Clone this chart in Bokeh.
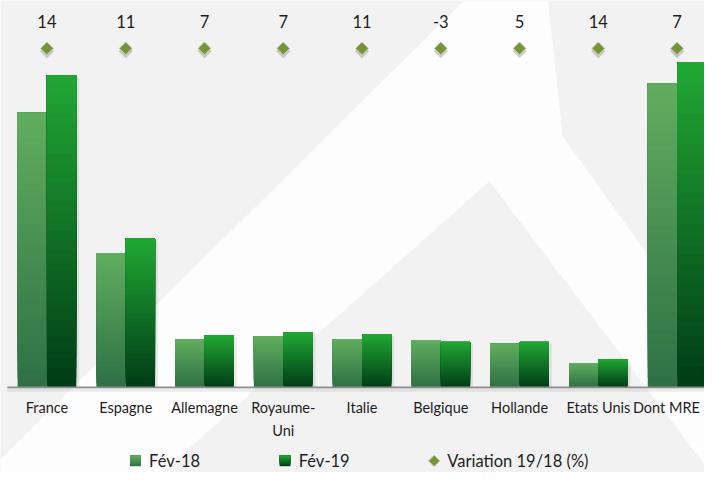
from bokeh.plotting import figure
from bokeh.models import Range1d
from bokeh.core.properties import value
from bokeh.embed import file_html
from bokeh.resources import INLINE
import math

# ---------------- data ----------------
categories = ["France", "Espagne", "Allemagne", "Royaume-\nUni", "Italie",
              "Belgique", "Hollande", "Etats Unis", "Dont MRE"]
fev18 = [480.0, 235.0, 84.5, 89.6, 84.5, 82.8, 76.0, 42.3, 530.7]
fev19 = [546.0, 260.0, 91.0, 96.3, 93.0, 79.4, 79.4, 49.0, 568.4]
variation = [14, 11, 7, 7, 11, -3, 5, 14, 7]
series_names = ["Fév-18", "Fév-19", "Variation 19/18 (%)"]

# ---------------- layout helpers (reference-pixel based) ----------------
W, H = 704, 472
REF_W, REF_H = 720, 488
CAT_PX = 80.56        # reference px per category
VAL_PX = 0.5917       # reference px per value unit

def rx(xref):   # reference pixel x -> data x
    return (xref - 47.5) / CAT_PX

def ry(yref):   # reference pixel y -> data y
    return (400 - yref) / VAL_PX

def dx(px):
    return px / CAT_PX

def dy(px):
    return px / VAL_PX

def hex2rgb(h):
    h = h.lstrip("#")
    return tuple(int(h[i:i + 2], 16) for i in (0, 2, 4))

def lerp(c1, c2, t):
    a, b = hex2rgb(c1), hex2rgb(c2)
    return "#%02x%02x%02x" % tuple(int(round(a[i] + (b[i] - a[i]) * t)) for i in range(3))

C18_TOP, C18_BOT = "#61ae5f", "#2e7045"
C19_TOP, C19_BOT = "#22a834", "#003c17"
FONT = "Lato"
TXT = "#1e1e1e"

p = figure(width=W, height=H, output_backend="svg", toolbar_location=None,
           x_range=Range1d(rx(0), rx(REF_W)), y_range=Range1d(ry(REF_H), ry(0)),
           min_border=0, min_border_left=0, min_border_right=0,
           min_border_top=0, min_border_bottom=0)
p.axis.visible = False
p.grid.visible = False
p.outline_line_color = None
p.background_fill_color = "#f2f2f2"
p.border_fill_color = "#f2f2f2"

# ---------------- background watermark ----------------
wm = [(0, 474), (474, 0), (560, 0), (575, 140), (720, 345), (720, 480),
      (500, 187), (300, 367), (165, 488), (0, 488)]
p.patch([rx(a) for a, b in wm], [ry(b) for a, b in wm],
        fill_color="#ffffff", line_color=None, fill_alpha=0.8)

# ---------------- bars ----------------
centers = list(range(len(categories)))
bw = dx(30)
N = 32

def gradient_bars(lefts, rights, vals, ctop, cbot):
    L, R, B, T, C = [], [], [], [], []
    for l, r, v in zip(lefts, rights, vals):
        for k in range(N):
            L.append(l); R.append(r)
            B.append(v * k / N); T.append(v)
            C.append(lerp(cbot, ctop, (k + 0.5) / N))
    p.quad(left=L, right=R, bottom=B, top=T, fill_color=C, line_color=None)

l18 = [c - bw for c in centers]
r18 = [c for c in centers]
l19 = [c for c in centers]
r19 = [c + bw for c in centers]

# soft shadow on the right of each pair
p.quad(left=r19, right=[r + dx(3) for r in r19],
       bottom=[0] * len(centers), top=[v - dy(2) for v in fev19],
       fill_color="#000000", fill_alpha=0.08, line_color=None)

gradient_bars(l18, r18, fev18, C18_TOP, C18_BOT)
gradient_bars(l19, r19, fev19, C19_TOP, C19_BOT)

# baseline
p.segment(x0=[rx(7)], y0=[-dy(2.5)], x1=[rx(REF_W)], y1=[-dy(2.5)],
          line_color="#000000", line_alpha=0.07, line_width=4)
p.segment(x0=[rx(7)], y0=[0], x1=[rx(REF_W)], y1=[0],
          line_color="#8e8e8e", line_width=1.6)

# ---------------- variation markers & labels ----------------
row = ry(49.5)
p.scatter(x=centers, y=[row - dy(3)] * len(centers), marker="square",
          angle=math.pi / 4, size=10, fill_color="#000000", fill_alpha=0.18,
          line_color=None)
p.scatter(x=centers, y=[row] * len(centers), marker="square",
          angle=math.pi / 4, size=9, fill_color="#76923c",
          line_color="#bcd295", line_width=1)
p.text(x=centers, y=[ry(22)] * len(centers), text=[str(v) for v in variation],
       text_align="center", text_baseline="middle", text_color=TXT,
       text_font=value(FONT), text_font_size="16.5px")

# ---------------- category labels ----------------
label_x = [min(c, rx(REF_W - 4 - 35)) for c in centers]
p.text(x=label_x, y=[ry(412)] * len(centers), text=categories,
       text_align="center", text_baseline="top", text_color=TXT,
       text_font=value(FONT), text_font_size="14.5px", text_line_height=1.35)

# ---------------- legend ----------------
ly = 476
def legend_square(xc, ctop, cbot):
    n = 10
    L, R, B, T, C = [], [], [], [], []
    for k in range(n):
        L.append(rx(xc - 5.5)); R.append(rx(xc + 5.5))
        B.append(ry(ly + 5.5) + dy(11) * k / n); T.append(ry(ly - 5.5))
        C.append(lerp(cbot, ctop, (k + 0.5) / n))
    p.quad(left=L, right=R, bottom=B, top=T, fill_color=C, line_color=None)

legend_square(138, C18_TOP, C18_BOT)
legend_square(291, C19_TOP, C19_BOT)
p.scatter(x=[rx(443.5)], y=[ry(ly)], marker="square", angle=math.pi / 4,
          size=8, fill_color="#76923c", line_color="#bcd295", line_width=1)
p.text(x=[rx(152), rx(305), rx(457)], y=[ry(ly)] * 3, text=series_names,
       text_align="left", text_baseline="middle", text_color=TXT,
       text_font=value(FONT), text_font_size="16.5px")

open("out.html", "w").write(file_html(p, INLINE))
